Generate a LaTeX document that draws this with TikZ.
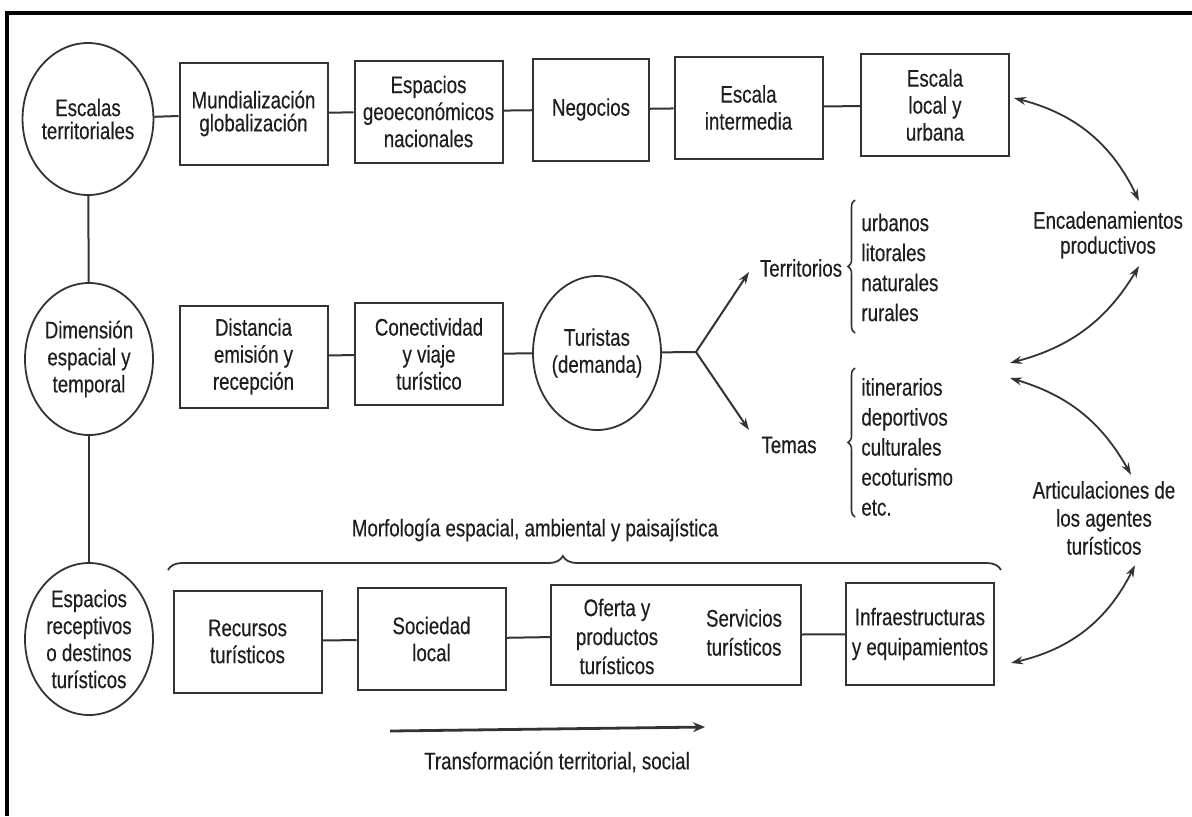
\documentclass[tikz,border=0pt]{standalone}
\usepackage{fontspec}
\setmainfont{Liberation Sans}[FakeStretch=0.78,FakeBold=0.35]
\usetikzlibrary{arrows.meta,decorations.pathreplacing,shapes.geometric}

\definecolor{ink}{HTML}{1E1E1E}
\definecolor{stroke}{HTML}{333333}

\begin{document}
\begin{tikzpicture}[x=0.5pt,y=-0.5pt,
  every node/.style={text=ink, font=\fontsize{12}{13.5}\selectfont},
  box/.style={draw=stroke, line width=1pt, rectangle, inner sep=0pt,
              minimum width=74pt, minimum height=51pt, align=center},
  oval/.style={draw=stroke, line width=0.9pt, ellipse, inner sep=0pt,
               minimum width=64pt, minimum height=76pt, align=center},
  lbl/.style={align=center, inner sep=0pt},
  list/.style={align=left, anchor=west, inner sep=0pt,
               font=\fontsize{12}{15}\selectfont},
  link/.style={draw=stroke, line width=1pt},
  tip/.style={draw=stroke, line width=1pt, -{Stealth[length=6pt,width=4pt]}},
  twoway/.style={draw=stroke, line width=0.9pt,
                 {Stealth[length=6pt,width=4pt]}-{Stealth[length=6pt,width=4pt]}},
  brace/.style={draw=stroke, line width=0.8pt, decorate,
                decoration={brace, amplitude=3.5pt}},
]
\useasboundingbox (0,0) rectangle (1192,816);

% frame
\draw[line width=2.2pt, black] (1192,13) -- (7,13) -- (7,816);

% row 1: territorial scales
\node[oval, font=\fontsize{12}{11.5}\selectfont] (e1) at (88,119) {Escalas\\territoriales};
\node[box, font=\fontsize{12}{11.5}\selectfont] (b11) at (253.5,113.5) {Mundialización\\globalización};
\node[box] (b12) at (428.5,111.5) {Espacios\\geoeconómicos\\nacionales};
\node[box, minimum width=58pt] (b13) at (591,109.5) {Negocios};
\node[box] (b14) at (748.5,107.5) {Escala\\intermedia};
\node[box] (b15) at (935,105) {Escala\\local y\\urbana};

\draw[link] (e1) -- (b11);
\draw[link] (b11) -- (b12);
\draw[link] (b12) -- (b13);
\draw[link] (b13) -- (b14);
\draw[link] (b14) -- (b15);

% row 2: spatial and temporal dimension
\node[oval] (e2) at (89,359) {Dimensión\\espacial y\\temporal};
\node[box] (b21) at (253.5,356.5) {Distancia\\emisión y\\recepción};
\node[box] (b22) at (429,354) {Conectividad\\y viaje\\turístico};
\node[oval, minimum height=77pt] (e3) at (597,353) {Turistas\\(demanda)};
\coordinate (fork) at (696,352);
\coordinate (terrTip) at (749,272);
\coordinate (temTip) at (749,430);
\node[lbl] (terr) at (801,268) {Territorios};
\node[lbl] (temas) at (789,445) {Temas};
\node[list] (tlist) at (861,267.5) {urbanos\\litorales\\naturales\\rurales};
\node[list] (mlist) at (861,447) {itinerarios\\deportivos\\culturales\\ecoturismo\\etc.};

\draw[link] (b21) -- (b22);
\draw[link] (b22) -- (e3);
\draw[link] (e3) -- (fork);
\draw[tip] (fork) -- (terrTip);
\draw[tip] (fork) -- (temTip);
\draw[brace] (855,333) -- (855,200);
\draw[brace] (855,517) -- (855,368);

% row 3: receiving spaces
\node[oval] (e4) at (89,639) {Espacios\\receptivos\\o destinos\\turísticos};
\node[box] (b31) at (247.5,641.5) {Recursos\\turísticos};
\node[box] (b32) at (431.5,639) {Sociedad\\local};
\node[box, minimum width=125pt, minimum height=50pt] (b33) at (676,635) {};
\node[lbl, font=\fontsize{12}{14.5}\selectfont] (ofe) at (617,636.5) {Oferta y\\productos\\turísticos};
\node[lbl, font=\fontsize{12}{14.5}\selectfont] (ser) at (744,632.5) {Servicios\\turísticos};
\node[box, font=\fontsize{12}{15}\selectfont] (b34) at (920,634) {Infraestructuras\\y equipamientos};

\draw[link] (b31) -- (b32);
\draw[link] (b32) -- (b33);
\draw[link] (b33) -- (b34);

% vertical spine
\draw[link] (e1) -- (e2);
\draw[link] (e2) -- (e4);

% morphology brace
\node[lbl] (morf) at (535,530) {Morfología espacial, ambiental y paisajística};
\draw[draw=stroke, line width=0.9pt, decorate,
      decoration={brace, amplitude=7pt, aspect=0.474}] (168,570) -- (1001,570);

% transformation arrow
\coordinate (tr0) at (390,731);
\coordinate (tr1) at (705,727);
\draw[draw=stroke, line width=1.4pt, -{Stealth[length=6pt,width=5pt]}] (tr0) -- (tr1);
\node[lbl] (trans) at (557,762) {Transformación territorial, social};

% linkages on the right
\node[lbl, font=\fontsize{12}{12.5}\selectfont] (enc) at (1108,235) {Encadenamientos\\productivos};
\node[lbl, font=\fontsize{12}{14}\selectfont] (art) at (1104,518) {Articulaciones de\\los agentes\\turísticos};
\coordinate (j1) at (1010,363);
\coordinate (j2) at (1010,378);

\draw[twoway] ([xshift=2pt,yshift=3.5pt]b15.east) to[bend left=25] ([xshift=15.5pt,yshift=5pt]enc.north);
\draw[twoway] ([xshift=15.5pt,yshift=-3.5pt]enc.south) to[bend left=22] (j1);
\draw[twoway] (j2) to[bend left=22] ([xshift=13.5pt,yshift=3pt]art.north);
\draw[twoway] ([xshift=15.5pt,yshift=-5pt]art.south) to[bend left=25] ([shift={(8pt,-14.5pt)}]b34.east);
\end{tikzpicture}
\end{document}
